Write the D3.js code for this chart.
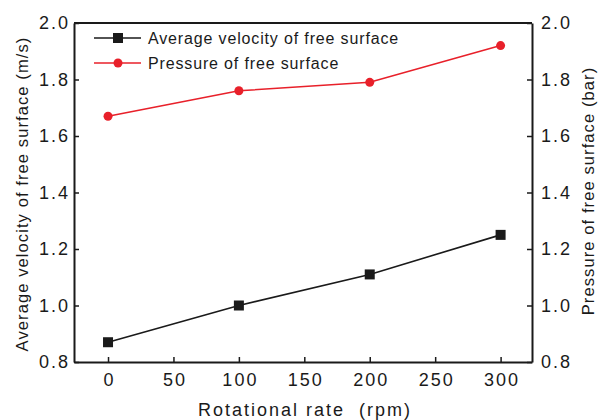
<!DOCTYPE html>
<html lang="en">
<head>
  <meta charset="UTF-8">
  <title>Velocity and pressure of free surface</title>
  <style>
    body { margin: 0; background: #fff; }
    text { font-family: "Liberation Sans", Arial, sans-serif; fill: #1a1a1a; }
  </style>
</head>
<body>
  <svg id="svg" width="599" height="420"></svg>

  <script src="https://d3js.org/d3.v7.min.js"></script>
  <script>
    // data
    const rates = [0, 100, 200, 300]
    const velocity = [0.87, 1.0, 1.11, 1.25]
    const pressure = [1.67, 1.76, 1.79, 1.92]
    const xTicks = [0, 50, 100, 150, 200, 250, 300]
    const yTicks = [0.8, 1.0, 1.2, 1.4, 1.6, 1.8, 2.0]

    // plot box (window.top is taken, so use other names)
    const plotL = 74, plotR = 532, plotT = 23, plotB = 362

    const svg = d3.select('#svg')

    const xScale = d3.scaleLinear().domain([-26, 324]).range([plotL, plotR])
    const yLeft = d3.scaleLinear().domain([0.8, 2.0]).range([plotB, plotT])
    const yRight = d3.scaleLinear().domain([0.8, 2.0]).range([plotB, plotT])

    // axes, ticks pointing inward
    const gx = svg.append('g')
      .attr('transform', `translate(0,${plotB})`)
      .call(d3.axisBottom(xScale).tickValues(xTicks).tickSizeInner(-5).tickSizeOuter(0).tickPadding(11))
    const gl = svg.append('g')
      .attr('transform', `translate(${plotL},0)`)
      .call(d3.axisLeft(yLeft).tickValues(yTicks).tickFormat(d3.format('.1f')).tickSizeInner(-5).tickSizeOuter(0).tickPadding(4))
    const gr = svg.append('g')
      .attr('transform', `translate(${plotR},0)`)
      .call(d3.axisRight(yRight).tickValues(yTicks).tickFormat(d3.format('.1f')).tickSizeInner(-5).tickSizeOuter(0).tickPadding(9))

    svg.selectAll('.domain').attr('stroke', '#1a1a1a').attr('stroke-width', 2)
    svg.selectAll('.tick line').attr('stroke', '#1a1a1a').attr('stroke-width', 1.5)
    svg.selectAll('.tick text')
      .style('font-size', '18px')
      .style('letter-spacing', '2px')
      .attr('fill', '#1a1a1a')
    // letter-spacing adds space after the last glyph too, nudge centred labels
    gx.selectAll('.tick text').attr('dx', 1)

    // top border
    svg.append('line')
      .attr('x1', plotL).attr('x2', plotR)
      .attr('y1', plotT).attr('y2', plotT)
      .attr('stroke', '#1a1a1a').attr('stroke-width', 2)

    const vLine = d3.line().x((d, i) => xScale(rates[i])).y(d => yLeft(d))
    const pLine = d3.line().x((d, i) => xScale(rates[i])).y(d => yRight(d))

    svg.append('path').datum(velocity)
      .attr('d', vLine).attr('fill', 'none')
      .attr('stroke', '#1a1a1a').attr('stroke-width', 1.6)
    svg.selectAll('.vpt').data(velocity).enter().append('rect')
      .attr('x', (d, i) => xScale(rates[i]) - 5)
      .attr('y', d => yLeft(d) - 5)
      .attr('width', 10).attr('height', 10)
      .attr('fill', '#1a1a1a')

    svg.append('path').datum(pressure)
      .attr('d', pLine).attr('fill', 'none')
      .attr('stroke', '#e8202a').attr('stroke-width', 1.6)
    svg.selectAll('.ppt').data(pressure).enter().append('circle')
      .attr('cx', (d, i) => xScale(rates[i]))
      .attr('cy', d => yRight(d))
      .attr('r', 4.5)
      .attr('fill', '#e8202a')

    // legend
    const legend = [
      { label: 'Average velocity of free surface', color: '#1a1a1a', shape: 'square', y: 38 },
      { label: 'Pressure of free surface', color: '#e8202a', shape: 'circle', y: 63 }
    ]
    legend.forEach(l => {
      svg.append('line')
        .attr('x1', 94).attr('x2', 141).attr('y1', l.y).attr('y2', l.y)
        .attr('stroke', l.color).attr('stroke-width', 1.6)
      if (l.shape === 'square') {
        svg.append('rect').attr('x', 113).attr('y', l.y - 5)
          .attr('width', 10).attr('height', 10).attr('fill', l.color)
      } else {
        svg.append('circle').attr('cx', 118).attr('cy', l.y).attr('r', 4.5).attr('fill', l.color)
      }
      svg.append('text')
        .attr('x', 148).attr('y', l.y + 6)
        .style('font-size', '16px')
        .style('letter-spacing', '0.85px')
        .text(l.label)
    })

    // axis titles
    svg.append('text')
      .attr('x', 305).attr('y', 416)
      .attr('text-anchor', 'middle')
      .style('font-size', '18px')
      .style('letter-spacing', '2px')
      .style('white-space', 'pre')
      .text('Rotational rate  (rpm)')

    svg.append('text')
      .attr('transform', `translate(28,194) rotate(-90)`)
      .attr('text-anchor', 'middle')
      .style('font-size', '16.5px')
      .style('letter-spacing', '1.1px')
      .text('Average velocity of free surface (m/s)')

    svg.append('text')
      .attr('transform', `translate(594,191) rotate(-90)`)
      .attr('text-anchor', 'middle')
      .style('font-size', '16.5px')
      .style('letter-spacing', '1.1px')
      .text('Pressure of free surface (bar)')
  </script>
</body>
</html>
